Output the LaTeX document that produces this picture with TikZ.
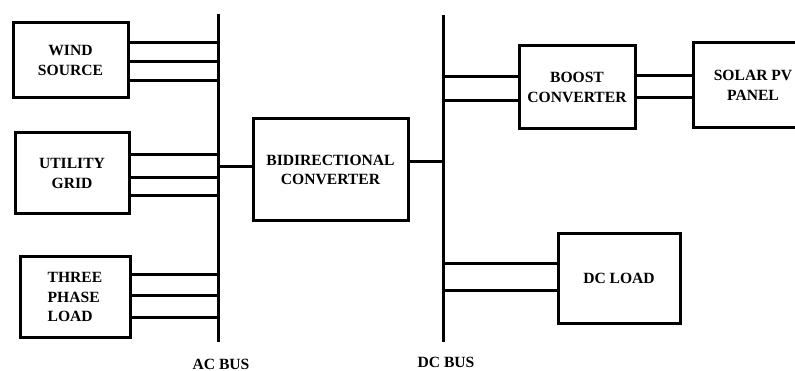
\documentclass[tikz,border=0pt]{standalone}
\usepackage{fontspec}
\setmainfont{Liberation Serif}
\begin{document}
\begin{tikzpicture}[x=1pt,y=-1pt,
  blk/.style={draw,line width=3pt,inner sep=0pt,font=\bfseries\fontsize{15.6}{19.8}\selectfont,align=center},
  wire/.style={line width=3pt},
  buslbl/.style={font=\bfseries\fontsize{15.6}{18}\selectfont,inner sep=0pt}]
\useasboundingbox (0,0) rectangle (795,371);
\clip (0,0) rectangle (795,371);
% boxes
\node[blk,minimum width=115pt,minimum height=75pt] (wind) at (70.5,60.5) {WIND\\SOURCE};
\node[blk,minimum width=114pt,minimum height=81pt] (grid) at (72,173.5) {UTILITY\\GRID};
\node[blk,minimum width=110pt,minimum height=80pt,align=left] (load) at (75,297) {THREE\\PHASE\\LOAD};
\node[blk,minimum width=155pt,minimum height=102pt] (bdc) at (330.5,170) {BIDIRECTIONAL\\CONVERTER};
\node[blk,minimum width=116pt,minimum height=83pt] (boost) at (577,87.5) {BOOST\\CONVERTER};
\node[blk,minimum width=120pt,minimum height=85pt] (pv) at (753,85.5) {SOLAR PV\\PANEL};
\node[blk,minimum width=122pt,minimum height=89pt] (dcl) at (619,278.5) {DC LOAD};
% buses
\coordinate (acT) at (218,14);
\coordinate (acB) at (218,342);
\coordinate (dcT) at (443,15);
\coordinate (dcB) at (443,342);
\draw[wire] (acT) -- (acB);
\draw[wire] (dcT) -- (dcB);
\node[buslbl] (aclbl) at (221,364) {AC BUS};
\node[buslbl] (dclbl) at (446,362) {DC BUS};
% wind to AC bus
\foreach \yy in {43,62,81} \draw[wire] (wind.east |- 0,\yy) -- (acT |- 0,\yy);
% grid to AC bus
\foreach \yy in {155,178,196} \draw[wire] (grid.east |- 0,\yy) -- (acT |- 0,\yy);
% load to AC bus
\foreach \yy in {275,296,317} \draw[wire] (load.east |- 0,\yy) -- (acT |- 0,\yy);
% bidirectional
\draw[wire] (acT |- 0,167) -- (bdc.west |- 0,167);
\draw[wire] (bdc.east |- 0,162) -- (dcT |- 0,162);
% boost
\foreach \yy in {77,101} \draw[wire] (dcT |- 0,\yy) -- (boost.west |- 0,\yy);
\draw[wire] (boost.east |- 0,76) -- (pv.west |- 0,76);
\draw[wire] (boost.east |- 0,98) -- (pv.west |- 0,98);
% dc load
\foreach \yy in {264,291} \draw[wire] (dcT |- 0,\yy) -- (dcl.west |- 0,\yy);
\end{tikzpicture}
\end{document}
